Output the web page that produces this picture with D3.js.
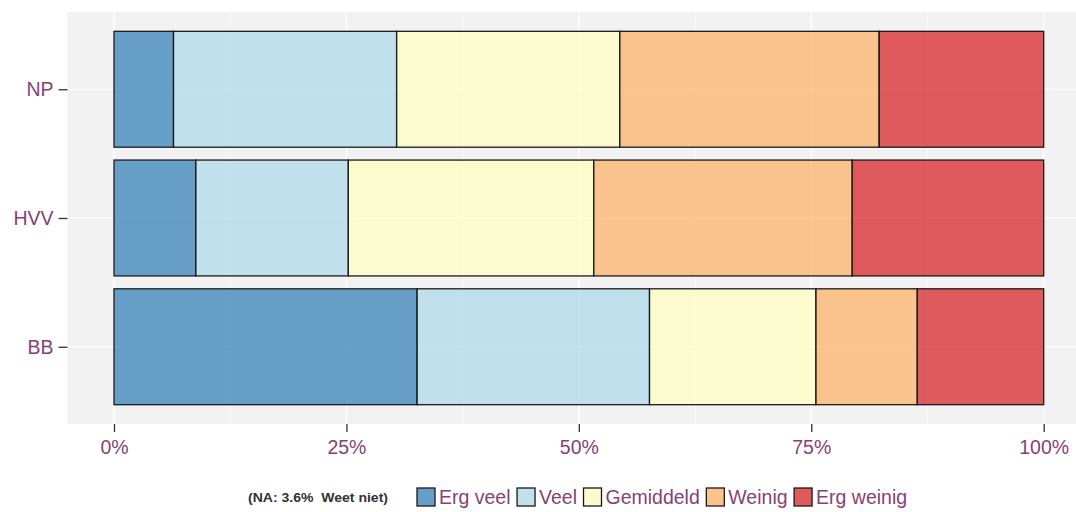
<!DOCTYPE html>
<html>
<head>
<meta charset="utf-8">
<script src="https://cdn.jsdelivr.net/npm/d3@7"></script>
<style>
  body { margin: 0; background: #fff; }
  text { font-family: "Liberation Sans", Arial, sans-serif; }
</style>
</head>
<body>
<div id="chart"></div>
<script>
const groups = ["NP", "HVV", "BB"];
const levels = ["Erg veel", "Veel", "Gemiddeld", "Weinig", "Erg weinig"];
const colors = ["#2c7bb6", "#abd9e9", "#ffffbf", "#fdae61", "#d7191c"];
// percentages per group, in the order of levels
const valuesNP  = [6.4, 24.0, 24.0, 27.9, 17.7];
const valuesHVV = [8.8, 16.4, 26.4, 27.8, 20.6];
const valuesBB  = [32.6, 25.0, 17.9, 10.9, 13.6];
const xTicks = [0, 25, 50, 75, 100];
const xMinor = [12.5, 37.5, 62.5, 87.5];
const naNote = "(NA: 3.6%  Weet niet)";

const width = 1076, height = 512;
const labelColor = "#8a3f72";
const panelTop = 12, panelBottom = 424;

const x = d3.scaleLinear().domain([0, 100]).range([114, 1043.7]);
const panelLeft = x(-5), panelRight = x(105);
const unit = (panelBottom - panelTop) / 3.2;
const y = d3.scalePoint().domain(groups)
    .range([panelTop + 0.6 * unit, panelBottom - 0.6 * unit]);
const barH = 0.9 * unit;

const color = d3.scaleOrdinal().domain(levels).range(colors);

const svg = d3.select("#chart").append("svg")
    .attr("width", width)
    .attr("height", height);

svg.append("rect")
    .attr("x", panelLeft).attr("y", panelTop)
    .attr("width", panelRight - panelLeft).attr("height", panelBottom - panelTop)
    .attr("fill", "#f2f2f2");

// grid
svg.selectAll(".minor").data(xMinor).enter().append("line")
    .attr("x1", d => x(d)).attr("x2", d => x(d))
    .attr("y1", panelTop).attr("y2", panelBottom)
    .attr("stroke", "#fff").attr("stroke-width", 0.6);
svg.selectAll(".major").data(xTicks).enter().append("line")
    .attr("x1", d => x(d)).attr("x2", d => x(d))
    .attr("y1", panelTop).attr("y2", panelBottom)
    .attr("stroke", "#fff").attr("stroke-width", 1.2);
svg.selectAll(".hgrid").data(groups).enter().append("line")
    .attr("x1", panelLeft).attr("x2", panelRight)
    .attr("y1", d => y(d)).attr("y2", d => y(d))
    .attr("stroke", "#fff").attr("stroke-width", 1.2);

// stacked bars
const table = groups.map((g, i) => {
  const row = { group: g };
  const vals = [valuesNP, valuesHVV, valuesBB][i];
  levels.forEach((l, j) => row[l] = vals[j]);
  return row;
});
const series = d3.stack().keys(levels)(table);

svg.append("g").selectAll("g")
    .data(series)
  .enter().append("g")
    .attr("fill", d => color(d.key))
  .selectAll("rect")
    .data(d => d)
  .enter().append("rect")
    .attr("x", d => x(d[0]))
    .attr("width", d => x(d[1]) - x(d[0]))
    .attr("y", d => y(d.data.group) - barH / 2)
    .attr("height", barH)
    .attr("fill-opacity", 0.7)
    .attr("stroke", "#1a1a1a")
    .attr("stroke-width", 1.3);

// x axis
const xAxis = svg.append("g")
    .attr("transform", "translate(0," + panelBottom + ")")
    .call(d3.axisBottom(x).tickValues(xTicks).tickFormat(d => d + "%").tickSize(8).tickPadding(8));
xAxis.select(".domain").remove();
xAxis.selectAll("line").attr("stroke", "#333").attr("stroke-width", 1.3);
xAxis.selectAll("text").attr("fill", labelColor).style("font-size", "19.5px")
    .style("font-family", '"Liberation Sans", Arial, sans-serif');

// y axis
const yAxis = svg.append("g")
    .attr("transform", "translate(" + panelLeft + ",0)")
    .call(d3.axisLeft(y).tickSize(9).tickPadding(5));
yAxis.select(".domain").remove();
yAxis.selectAll("line").attr("stroke", "#333").attr("stroke-width", 1.3);
yAxis.selectAll("text").attr("fill", labelColor).style("font-size", "19.5px")
    .style("font-family", '"Liberation Sans", Arial, sans-serif');

// legend
const legend = svg.append("g");
legend.append("text")
    .attr("x", 248).attr("y", 502)
    .attr("fill", "#333")
    .style("font-size", "12px").style("font-weight", "bold")
    .style("white-space", "pre")
    .attr("textLength", 140).attr("lengthAdjust", "spacingAndGlyphs")
    .text(naNote);

let lx = 417;
levels.forEach(l => {
  legend.append("rect")
      .attr("x", lx).attr("y", 488)
      .attr("width", 18).attr("height", 18)
      .attr("fill", "#f2f2f2");
  legend.append("rect")
      .attr("x", lx).attr("y", 488)
      .attr("width", 18).attr("height", 18)
      .attr("fill", color(l)).attr("fill-opacity", 0.7)
      .attr("stroke", "#1a1a1a").attr("stroke-width", 1.3);
  const t = legend.append("text")
      .attr("x", lx + 22).attr("y", 504)
      .attr("fill", labelColor)
      .style("font-size", "19.5px")
      .text(l);
  lx += 22 + t.node().getComputedTextLength() + 6.5;
});
</script>
</body>
</html>
